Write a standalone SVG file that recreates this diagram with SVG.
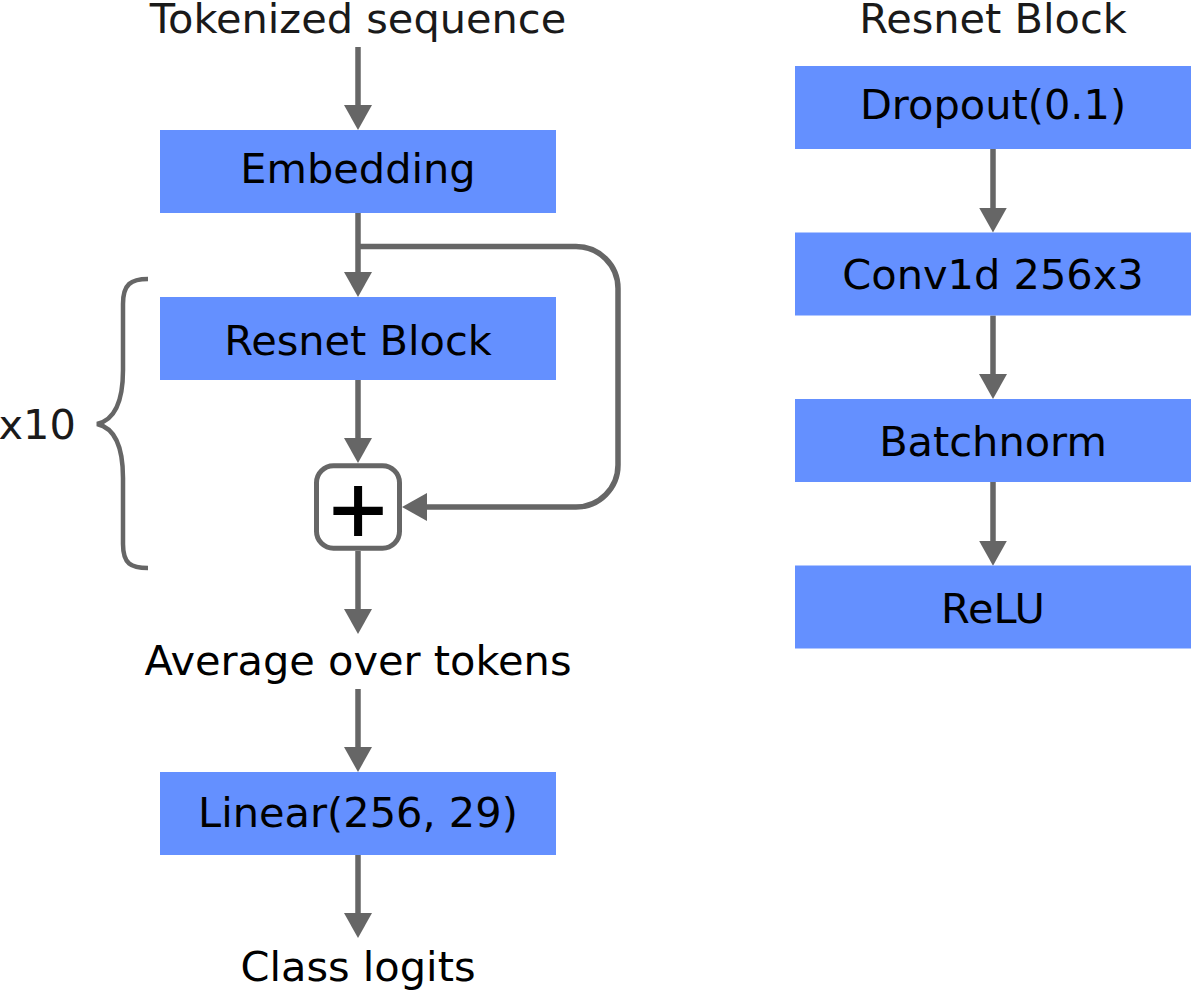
<svg xmlns="http://www.w3.org/2000/svg" width="1191" height="990" viewBox="0 0 1191 990">
<defs>
<marker id="ah" viewBox="0 0 25 28" markerWidth="25" markerHeight="28" markerUnits="userSpaceOnUse" refX="3" refY="14" orient="auto">
<path d="M0,0 L25,14 L0,28 Z" fill="#666666"/>
</marker>
</defs>
<style>
.box{fill:#6490ff;}
.t{font-family:"DejaVu Sans",sans-serif;font-size:41.5px;fill:#000;text-anchor:middle;}
.lbl{font-family:"DejaVu Sans",sans-serif;font-size:41.5px;fill:#1a1a1a;text-anchor:middle;}
.edge{fill:none;stroke:#666666;stroke-width:5.5;marker-end:url(#ah);}
</style>
<rect width="1191" height="990" fill="#ffffff"/>
<g id="connectors">
<line class="edge" x1="358" y1="47" x2="358" y2="108"/>
<line class="edge" x1="358" y1="213" x2="358" y2="275"/>
<line class="edge" x1="358" y1="380" x2="358" y2="441"/>
<line class="edge" x1="358" y1="551" x2="358" y2="612"/>
<line class="edge" x1="358" y1="689" x2="358" y2="750"/>
<line class="edge" x1="358" y1="855" x2="358" y2="916"/>
<path class="edge" d="M358,246.5 H576 A42,42 0 0 1 618,288.5 V465 A42,42 0 0 1 576,507 H424"/>
<line class="edge" x1="993" y1="149" x2="993" y2="210.5"/>
<line class="edge" x1="993" y1="315.5" x2="993" y2="377"/>
<line class="edge" x1="993" y1="482" x2="993" y2="543.7"/>
</g>
<g id="tokenized"><text class="lbl" x="358" y="32.5">Tokenized sequence</text></g>
<g id="embedding"><rect class="box" x="160" y="130" width="396" height="83"/><text class="t" x="358" y="182.5">Embedding</text></g>
<g id="resnet"><rect class="box" x="160" y="297" width="396" height="83"/><text class="t" x="358" y="354.5">Resnet Block</text></g>
<g id="plus"><rect x="316.5" y="465.8" width="83" height="82.4" rx="17" fill="#ffffff" stroke="#666666" stroke-width="5"/><text x="358" y="535.2" font-family="DejaVu Sans, sans-serif" font-size="76" text-anchor="middle" fill="#000" stroke="#000" stroke-width="1.8">+</text></g>
<g id="repeat"><path d="M148,279 C131,279 123,284 123,304 L123,370 C123,400 115,420 97,424 C115,428 123,448 123,478 L123,544 C123,564 131,568 148,568" fill="none" stroke="#666666" stroke-width="4.5"/><text x="-1.5" y="438.5" font-family="DejaVu Sans, sans-serif" font-size="41.5" fill="#1a1a1a">x10</text></g>
<g id="average"><text class="t" x="358" y="674.5">Average over tokens</text></g>
<g id="linear"><rect class="box" x="160" y="772" width="396" height="83"/><text class="t" x="358" y="826.5">Linear(256, 29)</text></g>
<g id="logits"><text class="t" x="358" y="981">Class logits</text></g>
<g id="title"><text class="lbl" x="993" y="32.5">Resnet Block</text></g>
<g id="dropout"><rect class="box" x="795" y="66" width="396" height="83"/><text class="t" x="993" y="119">Dropout(0.1)</text></g>
<g id="conv"><rect class="box" x="795" y="232.5" width="396" height="83"/><text class="t" x="993" y="288.5">Conv1d 256x3</text></g>
<g id="batchnorm"><rect class="box" x="795" y="399" width="396" height="83"/><text class="t" x="993" y="456">Batchnorm</text></g>
<g id="relu"><rect class="box" x="795" y="565.5" width="396" height="83"/><text class="t" x="993" y="622.5">ReLU</text></g>
</svg>
